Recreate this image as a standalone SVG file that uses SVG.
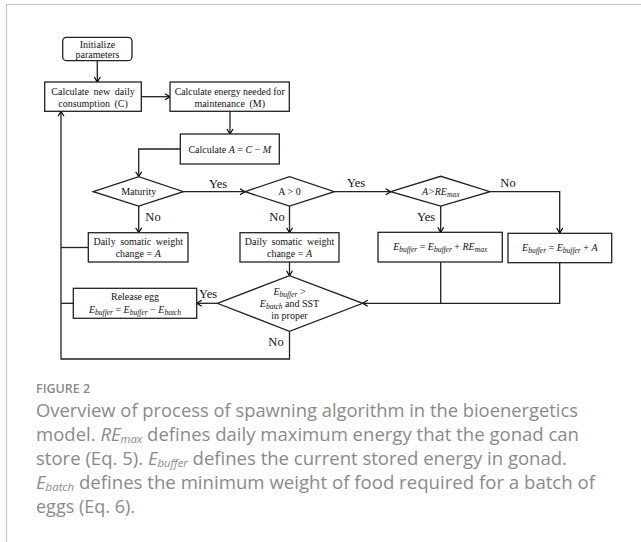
<svg xmlns="http://www.w3.org/2000/svg" width="641" height="542" viewBox="0 0 641 542">
<defs>
<marker id="arr" markerWidth="8" markerHeight="8" refX="6" refY="4" orient="auto" markerUnits="userSpaceOnUse">
<path d="M1,1 L6,4 L1,7" fill="none" stroke="#000" stroke-width="1.2"/>
</marker>
</defs>
<style>
.box{fill:#fff;stroke:#222;stroke-width:1.3}
.t{font-family:"Liberation Serif",serif;font-size:10px;fill:#111;text-anchor:middle}
.m{font-style:italic}
.lbl{font-family:"Liberation Serif",serif;font-size:12.5px;fill:#111;text-anchor:middle}
.c{fill:none;stroke:#222;stroke-width:1.3}
.cap{font-family:"Open Sans",sans-serif;font-size:18px;fill:#8a8a8a}
.sub{font-size:7.5px}
.csub{font-size:11px;font-style:italic}
</style>
<rect width="641" height="542" fill="#fff"/>
<path d="M6.5,542 V4.5 H641" fill="none" stroke="#c8c8c8" stroke-width="1.2"/>

<g id="connectors">
<path class="c" d="M97.3,60.7 V82" marker-end="url(#arr)"/>
<path class="c" d="M141.3,96.7 H170" marker-end="url(#arr)"/>
<path class="c" d="M230,111.3 V134" marker-end="url(#arr)"/>
<path class="c" d="M180.3,149 H138.7 V176.7" marker-end="url(#arr)"/>
<path class="c" d="M183.3,191.7 H245" marker-end="url(#arr)"/>
<path class="c" d="M334.3,191.7 H390.7" marker-end="url(#arr)"/>
<path class="c" d="M490,191.7 H559.7 V233" marker-end="url(#arr)"/>
<path class="c" d="M440.7,206 V232.3" marker-end="url(#arr)"/>
<path class="c" d="M138.7,206 V232.7" marker-end="url(#arr)"/>
<path class="c" d="M289.5,206 V232.7" marker-end="url(#arr)"/>
<path class="c" d="M289.5,262 V275.7" marker-end="url(#arr)"/>
<path class="c" d="M440.7,262 V303.3"/>
<path class="c" d="M559.7,262.7 V303.3 H362.7" marker-end="url(#arr)"/>
<path class="c" d="M217.3,303.3 H196.7" marker-end="url(#arr)"/>
<path class="c" d="M289.5,331.3 V359 H61 V111.3" marker-end="url(#arr)"/>
<path class="c" d="M88.3,247.5 H61"/>
<path class="c" d="M73.3,303.3 H61"/>
<text class="lbl" x="218" y="187.5">Yes</text>
<text class="lbl" x="356" y="187">Yes</text>
<text class="lbl" x="508" y="186.5">No</text>
<text class="lbl" x="153" y="221">No</text>
<text class="lbl" x="277" y="221">No</text>
<text class="lbl" x="426" y="221">Yes</text>
<text class="lbl" x="208" y="298">Yes</text>
<text class="lbl" x="276" y="346">No</text>
</g>

<g id="init">
<rect class="box" x="62.7" y="37.3" width="69.3" height="23.4" rx="4"/>
<text class="t" x="97.5" y="47.5">Initialize</text>
<text class="t" x="97.5" y="58">parameters</text>
</g>
<g id="calcC">
<rect class="box" x="44.7" y="82" width="96.6" height="29.3"/>
<text class="t" x="93" y="95" word-spacing="2">Calculate new daily</text>
<text class="t" x="93" y="106.5" word-spacing="2">consumption (C)</text>
</g>
<g id="calcM">
<rect class="box" x="170" y="82" width="119.3" height="29.3"/>
<text class="t" x="229.7" y="95" textLength="110" lengthAdjust="spacingAndGlyphs">Calculate energy needed for</text>
<text class="t" x="229.7" y="106.5" word-spacing="2">maintenance (M)</text>
</g>
<g id="calcA">
<rect class="box" x="180.3" y="134" width="99" height="30"/>
<text class="t" x="229.8" y="152.5">Calculate <tspan class="m">A</tspan> = <tspan class="m">C</tspan> − <tspan class="m">M</tspan></text>
</g>
<g id="maturity">
<path class="box" d="M93.3,191.7 L138.7,176.7 L183.3,191.7 L138.7,206 Z"/>
<text class="t" x="138.7" y="195">Maturity</text>
</g>
<g id="apos">
<path class="box" d="M245,191.7 L289.5,176.7 L334.3,191.7 L289.5,206 Z"/>
<text class="t" x="289.5" y="195">A &gt; 0</text>
</g>
<g id="aremax">
<path class="box" d="M390.7,191.7 L440.7,176.3 L490,191.7 L440.7,206 Z"/>
<text class="t m" x="440.7" y="195">A&gt;RE<tspan class="sub" dy="2">max</tspan></text>
</g>
<g id="somatic1">
<rect class="box" x="88.3" y="232.7" width="99.7" height="29.3"/>
<text class="t" x="138.2" y="245" word-spacing="2">Daily somatic weight</text>
<text class="t" x="138.2" y="257">change = <tspan class="m">A</tspan></text>
</g>
<g id="somatic2">
<rect class="box" x="240" y="232.7" width="99" height="29.3"/>
<text class="t" x="289.5" y="245" word-spacing="2">Daily somatic weight</text>
<text class="t" x="289.5" y="257">change = <tspan class="m">A</tspan></text>
</g>
<g id="bufRE">
<rect class="box" x="378" y="232.3" width="124.3" height="29.7"/>
<text class="t" x="440.2" y="250"><tspan class="m">E</tspan><tspan class="m sub" dy="2">buffer</tspan><tspan dy="-2"> = </tspan><tspan class="m">E</tspan><tspan class="m sub" dy="2">buffer</tspan><tspan dy="-2"> + </tspan><tspan class="m">RE</tspan><tspan class="m sub" dy="2">max</tspan></text>
</g>
<g id="bufA">
<rect class="box" x="508" y="233.3" width="103.7" height="29.4"/>
<text class="t" x="559.8" y="250.5"><tspan class="m">E</tspan><tspan class="m sub" dy="2">buffer</tspan><tspan dy="-2"> = </tspan><tspan class="m">E</tspan><tspan class="m sub" dy="2">buffer</tspan><tspan dy="-2"> + </tspan><tspan class="m">A</tspan></text>
</g>
<g id="sst">
<path class="box" d="M217.3,303.3 L289.5,275.7 L362.7,303.3 L289.5,331.3 Z"/>
<text class="t" x="289.5" y="295"><tspan class="m">E</tspan><tspan class="m sub" dy="2">buffer</tspan><tspan dy="-2"> &gt;</tspan></text>
<text class="t" x="289.5" y="307"><tspan class="m">E</tspan><tspan class="m sub" dy="2">batch</tspan><tspan dy="-2"> and SST</tspan></text>
<text class="t" x="289.5" y="319">in proper</text>
</g>
<g id="release">
<rect class="box" x="73.3" y="288.3" width="123.4" height="30"/>
<text class="t" x="135" y="300">Release egg</text>
<text class="t" x="135" y="313"><tspan class="m">E</tspan><tspan class="m sub" dy="2">buffer</tspan><tspan dy="-2"> = </tspan><tspan class="m">E</tspan><tspan class="m sub" dy="2">buffer</tspan><tspan dy="-2"> − </tspan><tspan class="m">E</tspan><tspan class="m sub" dy="2">batch</tspan></text>
</g>

<g id="caption">
<text x="36" y="392.7" font-family="'Open Sans',sans-serif" font-size="12.5" font-weight="600" fill="#8a8a8a">FIGURE 2</text>
<text class="cap" x="36" y="416.7" textLength="542" lengthAdjust="spacingAndGlyphs">Overview of process of spawning algorithm in the bioenergetics</text>
<text class="cap" x="36" y="440.7" textLength="543" lengthAdjust="spacingAndGlyphs">model. <tspan font-style="italic">RE</tspan><tspan class="csub" dy="2.5">max</tspan><tspan dy="-2.5"> defines daily maximum energy that the gonad can</tspan></text>
<text class="cap" x="36" y="464.7" textLength="531" lengthAdjust="spacingAndGlyphs">store (Eq. 5). <tspan font-style="italic">E</tspan><tspan class="csub" dy="2.5">buffer</tspan><tspan dy="-2.5"> defines the current stored energy in gonad.</tspan></text>
<text class="cap" x="36" y="488.7" textLength="559" lengthAdjust="spacingAndGlyphs"><tspan font-style="italic">E</tspan><tspan class="csub" dy="2.5">batch</tspan><tspan dy="-2.5"> defines the minimum weight of food required for a batch of</tspan></text>
<text class="cap" x="36" y="512.7">eggs (Eq. 6).</text>
</g>
</svg>
